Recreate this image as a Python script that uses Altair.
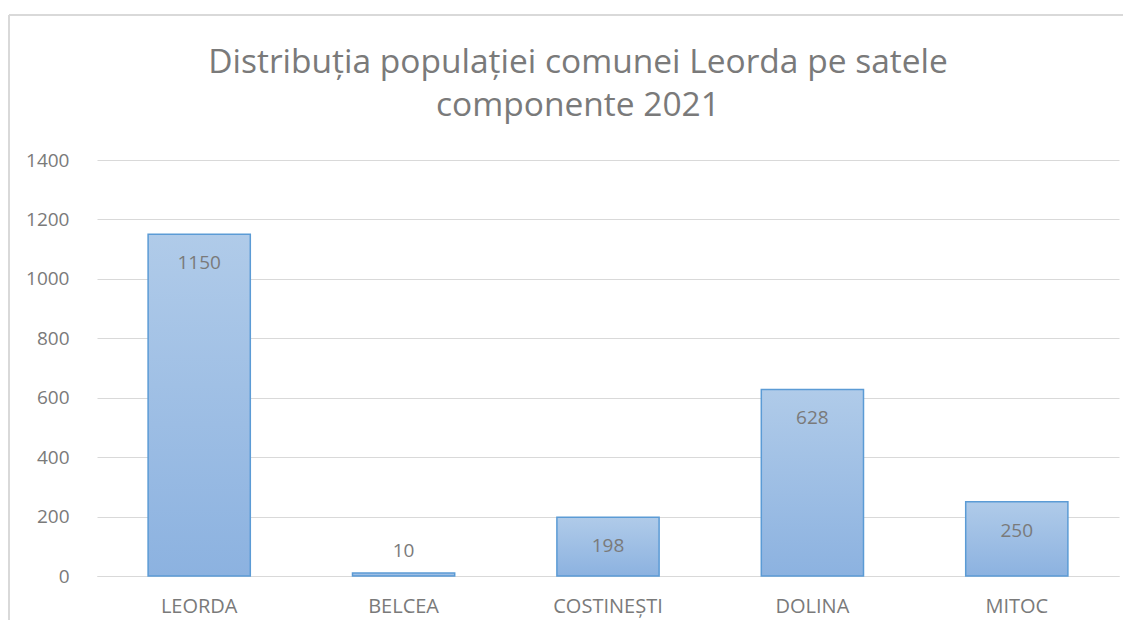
import altair as alt
import pandas as pd

villages = ["LEORDA", "BELCEA", "COSTINEȘTI", "DOLINA", "MITOC"]
population = [1150, 10, 198, 628, 250]
title_lines = ["Distribuția populației comunei Leorda pe satele", "componente 2021"]

df = pd.DataFrame({"sat": villages, "pop": population})

FONT = "Open Sans"
GRAY = "#7a7a7a"

x = alt.X("sat:N", sort=villages, title=None,
          scale=alt.Scale(paddingInner=0.5, paddingOuter=0.25),
          axis=alt.Axis(labelAngle=0, labelFontSize=20, labelColor=GRAY, labelFont=FONT,
                        ticks=False, domainColor="#d9d9d9", labelPadding=20, grid=False))
y = alt.Y("pop:Q", title=None,
          scale=alt.Scale(domain=[0, 1400]),
          axis=alt.Axis(values=[0, 200, 400, 600, 800, 1000, 1200, 1400], format="d",
                        labelFontSize=19, labelColor=GRAY, labelFont=FONT, ticks=False,
                        domain=False, gridColor="#d9d9d9", labelPadding=28))

grad = alt.Gradient(gradient="linear", x1=0, y1=0, x2=0, y2=1,
                    stops=[alt.GradientStop(color="#b0cbe9", offset=0),
                           alt.GradientStop(color="#8cb2e0", offset=1)])

bars = alt.Chart(df).mark_bar(color=grad, stroke="#5b9bd5", strokeWidth=1.5).encode(x=x, y=y)

inside = alt.Chart(df).transform_filter("datum.pop > 50").mark_text(
    font=FONT, fontSize=19, color=GRAY, baseline="middle", dy=29).encode(
    x=alt.X("sat:N", sort=villages), y="pop:Q", text="pop:Q")
above = alt.Chart(df).transform_filter("datum.pop <= 50").mark_text(
    font=FONT, fontSize=19, color=GRAY, baseline="middle", dy=-22).encode(
    x=alt.X("sat:N", sort=villages), y="pop:Q", text="pop:Q")

frame_top = alt.Chart(df).mark_rule(color="#d9d9d9", strokeWidth=1.5).encode(
    x=alt.value(-88), x2=alt.value(1050), y=alt.value(-145))
frame_left = alt.Chart(df).mark_rule(color="#d9d9d9", strokeWidth=1.5).encode(
    x=alt.value(-88), y=alt.value(-145), y2=alt.value(470))

chart = alt.layer(frame_top, frame_left, bars, inside, above).properties(
    width=1022, height=416,
    title=alt.TitleParams(text=title_lines, fontSize=33.5, font=FONT, fontWeight="normal",
                          color="#7a7a7a", anchor="middle", dx=-30, offset=0, dy=109,
                          lineHeight=43),
    padding={"left": 89, "top": 152, "right": 4, "bottom": 44},
    autosize=alt.AutoSizeParams(type="none"),
).configure_view(stroke=None)

chart.save("out.html", embed_options={"renderer": "svg", "actions": False})
